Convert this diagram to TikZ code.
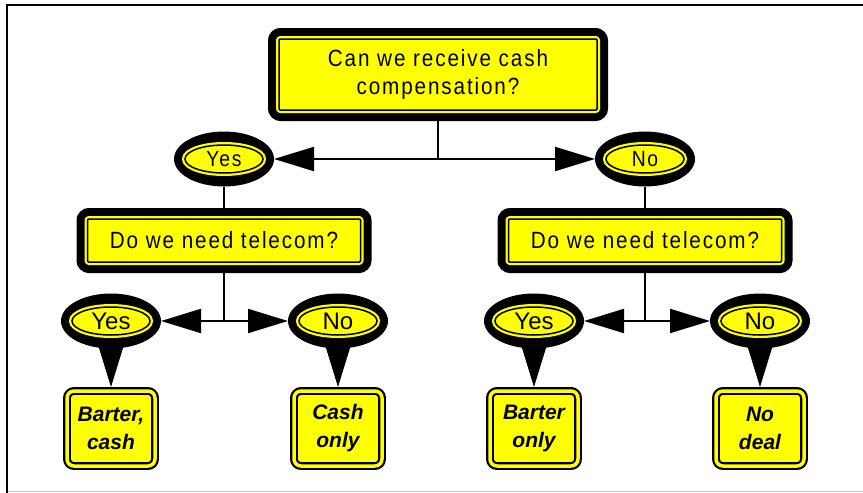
\documentclass[tikz,border=0pt]{standalone}
\usepackage{fontspec}
\setmainfont{Liberation Sans}
\newfontfamily\narrowfont[FakeStretch=0.88,LetterSpace=8]{Liberation Sans}
\usetikzlibrary{shapes.geometric,arrows.meta}
\definecolor{signyellow}{RGB}{255,255,0}

\begin{document}
\begin{tikzpicture}[x=1pt, y=-1pt,
  % yellow sign with a heavy black rim
  ask/.style={fill=signyellow, draw=black, line width=1.5pt, line join=round,
    preaction={draw=black, line width=22pt, line join=round},
    preaction={draw=signyellow, line width=6pt, line join=round},
    rectangle, rounded corners=1pt, align=center, inner sep=0pt,
    outer sep=11pt, font=\narrowfont\fontsize{23.5}{28}\selectfont},
  ring/.style={ellipse, fill=black, minimum width=100pt, minimum height=55pt,
    inner sep=0pt, outer sep=0pt,
    path picture={\draw[fill=signyellow, line width=1.5pt,
      preaction={draw=signyellow, line width=6pt}]
      (path picture bounding box.center) ellipse [x radius=39pt, y radius=14pt];}},
  leaf/.style={draw=black, line width=2.2pt, double=signyellow, double distance=3.5pt,
    fill=signyellow, rounded corners=7pt, minimum width=88pt, minimum height=75pt,
    inner sep=0pt, outer sep=4pt, align=center,
    font=\bfseries\itshape\fontsize{21}{28}\selectfont},
  twoway/.style={{Triangle[length=40pt,width=24pt]}-{Triangle[length=40pt,width=24pt]},
    line width=2pt},
  stem/.style={line width=2pt}]

  \useasboundingbox (0,0) rectangle (863,493);

  % frame
  \draw[line width=2pt] (6.5,493) -- (6.5,5) -- (863,5);
  \draw[gray!40, line width=1pt] (7.5,491) -- (863,491);

  % first question
  \node[ask, minimum width=318pt, minimum height=71pt] (cash) at (438,74.5)
    {Can we receive cash\\compensation?};
  \node[ring, font=\narrowfont\fontsize{22}{24}\selectfont] (cashyes) at (224,159) {Yes};
  \node[ring, font=\narrowfont\fontsize{22}{24}\selectfont] (cashno) at (645,159) {No};
  \draw[stem] (cash.south) -- (cash.south |- cashyes);
  \draw[twoway] (cashyes) -- (cashno);

  % telecom questions
  \node[ask, minimum width=273pt, minimum height=43pt] (telL) at (224,240.5) {Do we need telecom?};
  \node[ask, minimum width=273pt, minimum height=43pt] (telR) at (645,240.5) {Do we need telecom?};
  \draw[stem] (cashyes) -- (telL);
  \draw[stem] (cashno) -- (telR);

  % answers
  \node[ring, font=\fontsize{24}{26}\selectfont] (telLyes) at (111,321) {Yes};
  \node[ring, font=\fontsize{24}{26}\selectfont] (telLno) at (338,321) {No};
  \node[ring, font=\fontsize{24}{26}\selectfont] (telRyes) at (534,321) {Yes};
  \node[ring, font=\fontsize{24}{26}\selectfont] (telRno) at (760,321) {No};
  \draw[stem] (telL.south) -- (telL.south |- telLyes);
  \draw[stem] (telR.south) -- (telR.south |- telRyes);
  \draw[twoway] (telLyes) -- (telLno);
  \draw[twoway] (telRyes) -- (telRno);

  % outcomes
  \node[leaf] (bartercash) at (111,428.5) {Barter,\\cash};
  \node[leaf] (cashonly) at (338,428.5) {Cash\\only};
  \node[leaf] (barteronly) at (534,428.5) {Barter\\only};
  \node[leaf] (nodeal) at (760,428.5) {No\\deal};

  % pointers
  \foreach \a/\b in {telLyes/bartercash, telLno/cashonly, telRyes/barteronly, telRno/nodeal}
    \fill ([xshift=-14pt,yshift=7pt]\a.south) -- ([xshift=14pt,yshift=7pt]\a.south) -- (\b.north) -- cycle;

\end{tikzpicture}
\end{document}
